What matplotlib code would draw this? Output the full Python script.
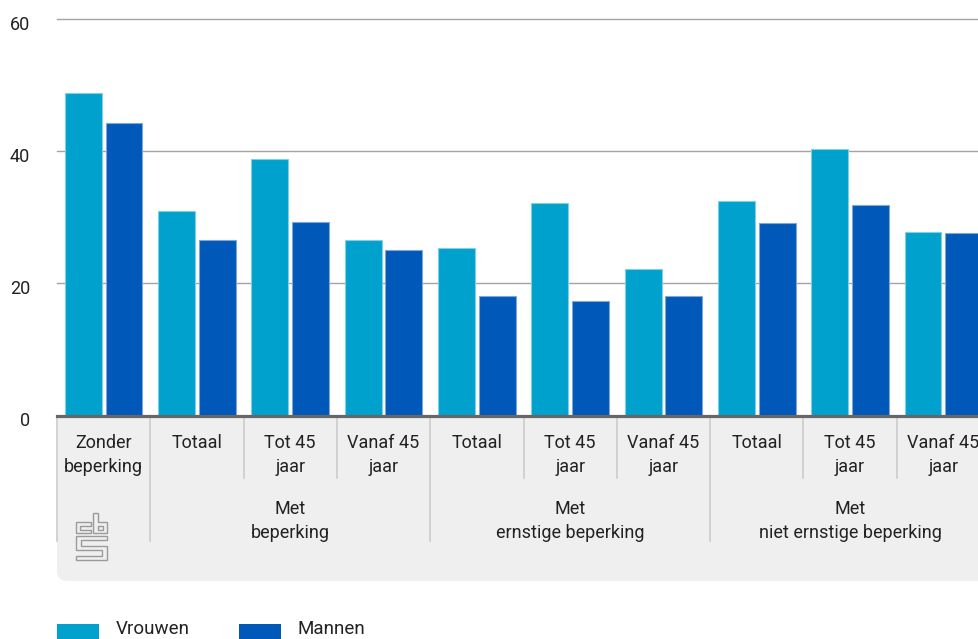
import matplotlib
matplotlib.use("Agg")
import matplotlib.pyplot as plt
from matplotlib.patches import FancyBboxPatch, Rectangle, Polygon
from matplotlib.transforms import blended_transform_factory, ScaledTranslation
import numpy as np

# ---------------- data ----------------
categories = ["Zonder\nbeperking", "Totaal", "Tot 45\njaar", "Vanaf 45\njaar",
              "Totaal", "Tot 45\njaar", "Vanaf 45\njaar",
              "Totaal", "Tot 45\njaar", "Vanaf 45\njaar"]
groups = ["", "Met\nbeperking", "Met\nernstige beperking", "Met\nniet ernstige beperking"]
group_members = [[0], [1, 2, 3], [4, 5, 6], [7, 8, 9]]
vrouwen = [48.8, 31.0, 38.8, 26.6, 25.3, 32.2, 22.2, 32.5, 40.3, 27.8]
mannen = [44.2, 26.6, 29.3, 25.1, 18.1, 17.3, 18.1, 29.1, 31.9, 27.6]
series_names = ["Vrouwen", "Mannen"]
yticks = [0, 20, 40, 60]

# ---------------- style ----------------
C_V = "#00A1CD"
C_M = "#0058B8"
E_V = "#7fd0e6"
E_M = "#7fa6d8"
TXT = "#222222"
FONT = ["Roboto", "DejaVu Sans"]
plt.rcParams["font.family"] = FONT
FS = 13

W, H = 979, 639
fig = plt.figure(figsize=(W / 100, H / 100), dpi=100)

# overlay axes in pixel coordinates (for the category panel, logo, legend)
ov = fig.add_axes([0, 0, 1, 1], zorder=0)
ov.set_xlim(0, W)
ov.set_ylim(H, 0)
ov.axis("off")

# main chart axes
x0, x1, ytop, ybase = 57, 990, 19, 415.5
ax = fig.add_axes([x0 / W, (H - ybase) / H, (x1 - x0) / W, (ybase - ytop) / H], zorder=1)
ax.patch.set_visible(False)
n = len(categories)
ax.set_xlim(-0.5, n - 0.5)
ax.set_ylim(0, 60)
for s in ax.spines.values():
    s.set_visible(False)
ax.set_xticks([])
ax.set_yticks(yticks)
ax.set_yticklabels([str(t) for t in yticks], fontsize=FS, color=TXT)
ax.tick_params(axis="y", length=0, pad=19.5)
for lab in ax.get_yticklabels():
    lab.set_transform(lab.get_transform() + ScaledTranslation(0, -4 / 100, fig.dpi_scale_trans))

for t in yticks[1:]:
    ax.axhline(t, color="#a3a3a3", lw=1.0, zorder=0, clip_on=False)

x = np.arange(n)
bw = 0.395
off = 0.218
ax.bar(x - off, vrouwen, bw, color=C_V, edgecolor=E_V, linewidth=0.8, zorder=2)
ax.bar(x + off, mannen, bw, color=C_M, edgecolor=E_M, linewidth=0.8, zorder=2)
ax.axhline(0, color="#666666", lw=2.3, zorder=3, clip_on=False)

# ---------------- category panel ----------------
panel_color = "#efefef"
top, bottom = 416, 581
box = FancyBboxPatch((x0, top), 1010 - x0, bottom - top,
                     boxstyle="round,pad=0,rounding_size=10",
                     facecolor=panel_color, edgecolor="none", zorder=0)
ov.add_patch(box)
ov.add_patch(Rectangle((x0, top), 1010 - x0, 30, facecolor=panel_color,
                       edgecolor="none", zorder=0))

tr = blended_transform_factory(ax.transData, ov.transData)
sep_color = "#c8c8c8"

# separators
group_ends = [g[-1] for g in group_members]
ov.plot([-0.5, -0.5], [top, 541], color=sep_color, lw=1.1, transform=tr, zorder=1)
for i in range(n - 1):
    yb = 541 if i in group_ends else 478
    ov.plot([i + 0.5, i + 0.5], [top, yb], color=sep_color, lw=1.1, transform=tr, zorder=1)

# first-level labels
for i, lab in enumerate(categories):
    for j, line in enumerate(lab.split("\n")):
        ov.text(i, 447.5 + 24 * j, line, transform=tr, ha="center", va="baseline",
                fontsize=FS, color=TXT, zorder=2)

# group labels
for g, members in zip(groups, group_members):
    if not g:
        continue
    cx = np.mean(members)
    for j, line in enumerate(g.split("\n")):
        ov.text(cx, 514.5 + 24 * j, line, transform=tr, ha="center", va="baseline",
                fontsize=FS, color=TXT, zorder=2)

# CBS logo (outline drawing)
lc = "#9a9a9a"
logo_polys = [
    [(91, 522), (76, 522), (76, 533), (91, 533), (91, 529.5), (80, 529.5), (80, 525.5), (91, 525.5)],
    [(93, 513), (98, 513), (98, 522), (107, 522), (107, 533), (93, 533)],
    [(98, 525.5), (103, 525.5), (103, 529.5), (98, 529.5)],
    [(107, 536), (76, 536), (76, 550), (102, 550), (102, 556), (76, 556), (76, 560),
     (107, 560), (107, 546), (81, 546), (81, 540), (107, 540)],
]
for p in logo_polys:
    ov.add_patch(Polygon(p, closed=True, fill=False, edgecolor=lc, lw=1.0, zorder=2))

# ---------------- legend ----------------
for (lx, name, col) in [(57, series_names[0], C_V), (239, series_names[1], C_M)]:
    ov.add_patch(Rectangle((lx, 624), 42, 20, facecolor=col, edgecolor="none", zorder=2))
    ov.text(lx + 59, 633.5, name, ha="left", va="baseline", fontsize=13.5,
            color=TXT, zorder=2)

fig.savefig("out.png", dpi=100)
